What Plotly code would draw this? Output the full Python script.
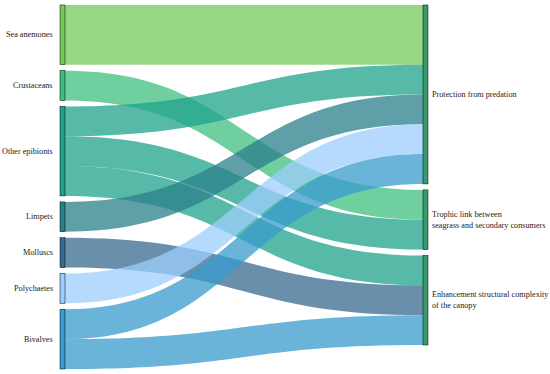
import plotly.graph_objects as go

# ---- data ----
sources = ["Sea anemones", "Crustaceans", "Other epibionts", "Limpets",
           "Molluscs", "Polychaetes", "Bivalves"]
targets = ["Protection from predation",
           "Trophic link between<br>seagrass and secondary consumers",
           "Enhancement structural complexity<br>of the canopy"]

link_source = ["Sea anemones", "Crustaceans", "Other epibionts", "Other epibionts",
               "Other epibionts", "Limpets", "Molluscs", "Polychaetes",
               "Bivalves", "Bivalves"]
link_target = ["Protection from predation",
               "Trophic link between<br>seagrass and secondary consumers",
               "Protection from predation",
               "Trophic link between<br>seagrass and secondary consumers",
               "Enhancement structural complexity<br>of the canopy",
               "Protection from predation",
               "Enhancement structural complexity<br>of the canopy",
               "Protection from predation",
               "Protection from predation",
               "Enhancement structural complexity<br>of the canopy"]
link_value = [2, 1, 1, 1, 1, 1, 1, 1, 1, 1]

source_colors = ["#74C95C", "#3FBF7E", "#1FA38C", "#2A7F8B",
                 "#386A8F", "#9CCEFC", "#389BCE"]
target_color = "#3A9C6C"

# ---- layout helpers ----
W, H = 550, 374
ml, mr, mt, mb = 60, 122, 5, 5
plot_w = W - ml - mr
plot_h = H - mt - mb
pad = 6
thick = 5

labels = sources + targets
idx = {n: i for i, n in enumerate(labels)}
node_val = {n: 0 for n in labels}
for s, t, v in zip(link_source, link_target, link_value):
    node_val[s] += v
    node_val[t] += v

tot_left = sum(node_val[n] for n in sources)
k = (plot_h - pad * (len(sources) - 1)) / tot_left


def centers(names):
    out, y = [], 0.0
    for n in names:
        h = node_val[n] * k
        out.append((y + h / 2) / plot_h)
        y += h + pad
    return out


left_y = centers(sources)
right_y = centers(targets)
xc = (thick / 2) / plot_w
node_x = [xc] * len(sources) + [1 - xc] * len(targets)
node_y = left_y + right_y


def rgba(hx, a):
    hx = hx.lstrip("#")
    r, g, b = int(hx[0:2], 16), int(hx[2:4], 16), int(hx[4:6], 16)
    return f"rgba({r},{g},{b},{a})"


def darker(hx, f=0.75):
    hx = hx.lstrip("#")
    r, g, b = int(hx[0:2], 16), int(hx[2:4], 16), int(hx[4:6], 16)
    return f"rgb({int(r*f)},{int(g*f)},{int(b*f)})"


node_colors = source_colors + [target_color] * len(targets)
link_colors = [rgba(source_colors[idx[s]], 0.75) for s in link_source]

fig = go.Figure(go.Sankey(
    arrangement="fixed",
    node=dict(
        label=labels,
        x=node_x,
        y=node_y,
        pad=pad,
        thickness=thick,
        color=node_colors,
        line=dict(color=[darker(c) for c in node_colors], width=0.5),
    ),
    link=dict(
        source=[idx[s] for s in link_source],
        target=[idx[t] for t in link_target],
        value=link_value,
        color=link_colors,
    ),
    textfont=dict(color="rgba(0,0,0,0)", size=1),
))

font = dict(family="Liberation Serif", size=8.2, color="#1a1a1a")
annotations = []
for n, yc in zip(sources, left_y):
    annotations.append(dict(
        x=-5 / plot_w, y=1 - yc, xref="paper", yref="paper",
        text=n, showarrow=False, xanchor="right", yanchor="middle",
        align="right", font=font))
for n, yc in zip(targets, right_y):
    annotations.append(dict(
        x=1 + 1.5 / plot_w, y=1 - yc, xref="paper", yref="paper",
        text=n, showarrow=False, xanchor="left", yanchor="middle",
        align="left", font=font))

fig.update_layout(
    width=W, height=H,
    margin=dict(l=ml, r=mr, t=mt, b=mb),
    paper_bgcolor="white",
    plot_bgcolor="white",
    annotations=annotations,
    font=font,
)

fig.write_html("out.html", config={"displayModeBar": False},
               post_script="document.body.style.margin='0';")
